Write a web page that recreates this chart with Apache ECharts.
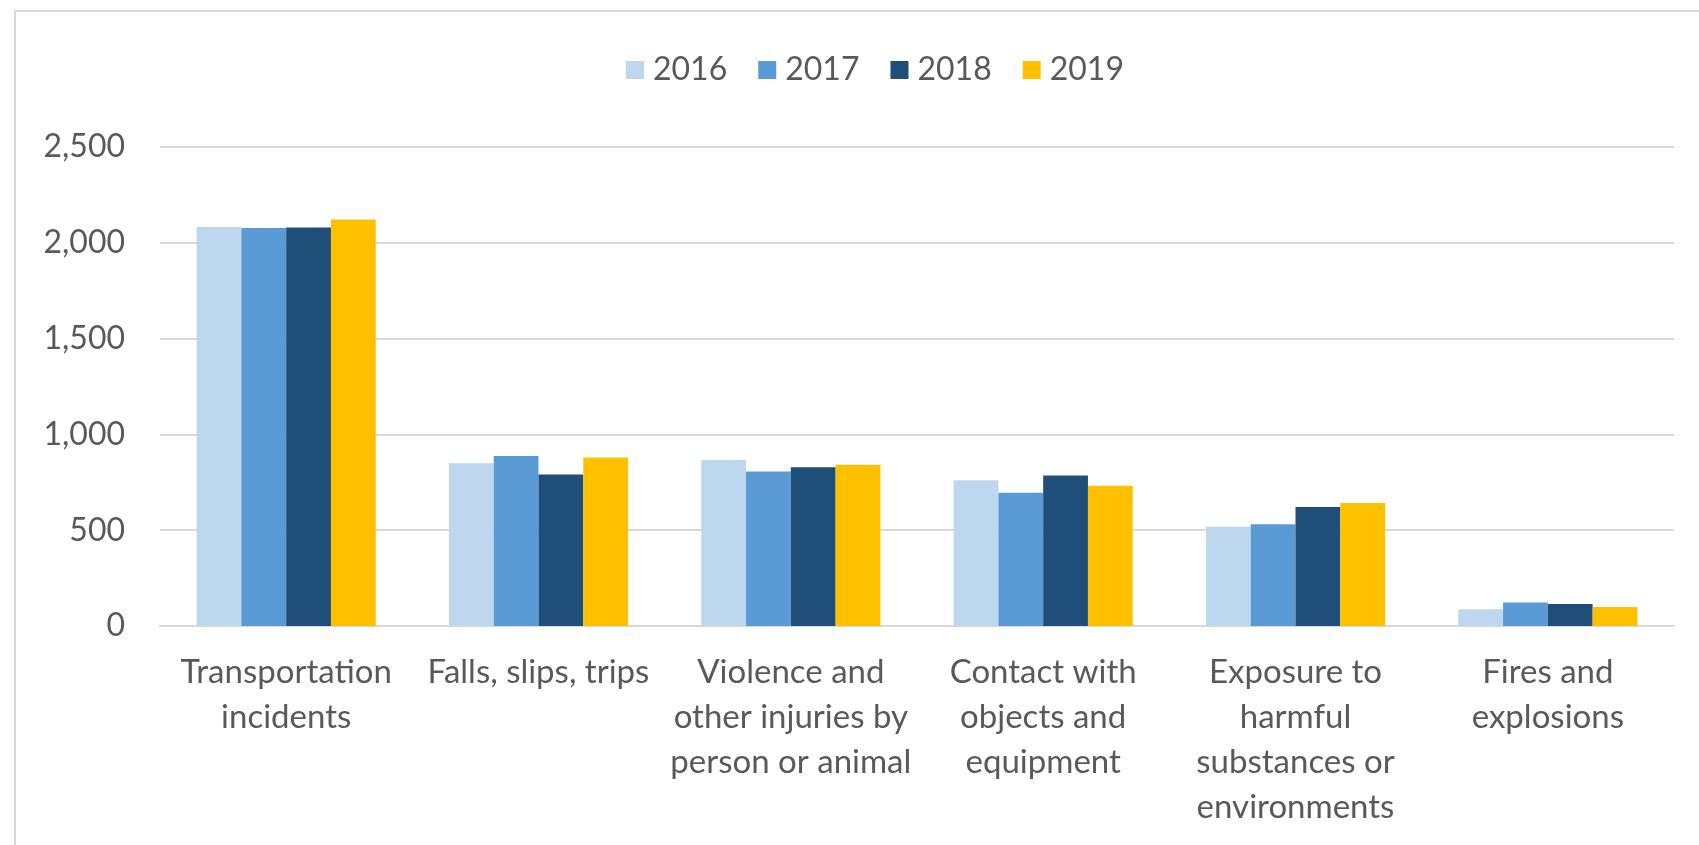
<!DOCTYPE html>
<html>
<head>
<meta charset="utf-8">
<script src="https://cdn.jsdelivr.net/npm/echarts@6/dist/echarts.min.js"></script>
<style>
html,body{margin:0;padding:0;background:#fff;}
#chart{width:1699px;height:845px;}
</style>
</head>
<body>
<div id="chart"></div>
<script>
const categories = [
  'Transportation\nincidents',
  'Falls, slips, trips',
  'Violence and\nother injuries by\nperson or animal',
  'Contact with\nobjects and\nequipment',
  'Exposure to\nharmful\nsubstances or\nenvironments',
  'Fires and\nexplosions'
];
const seriesNames = ['2016', '2017', '2018', '2019'];
const values2016 = [2083, 849, 866, 761, 518, 88];
const values2017 = [2077, 887, 807, 695, 531, 123];
const values2018 = [2080, 791, 828, 786, 621, 115];
const values2019 = [2122, 880, 841, 732, 642, 99];
const colors = ['#BDD7EE', '#5B9BD5', '#1F4E79', '#FFC000'];
const yTicks = { min: 0, max: 2500, interval: 500 };

const FONT = 'Lato';
const chart = echarts.init(document.getElementById('chart'), null, { renderer: 'canvas' });
const allValues = [values2016, values2017, values2018, values2019];

chart.setOption({
  backgroundColor: '#ffffff',
  animation: false,
  color: colors,
  graphic: [{
    type: 'polyline',
    shape: { points: [[15, 900], [15, 11], [1760, 11]] },
    style: { stroke: '#d9d9d9', lineWidth: 2, fill: null }
  }],
  legend: {
    data: seriesNames,
    top: 49,
    left: 621,
    itemWidth: 18,
    itemHeight: 18,
    itemGap: 31,
    icon: 'rect',
    textStyle: { fontFamily: FONT, fontSize: 32, color: '#595959', padding: [0, 0, 0, 4] }
  },
  grid: { left: 160, right: 25, top: 147, bottom: 219, containLabel: false },
  xAxis: {
    type: 'category',
    data: categories,
    axisTick: { show: false },
    axisLine: { lineStyle: { color: '#d9d9d9', width: 2 } },
    axisLabel: {
      interval: 0,
      margin: 24,
      fontFamily: FONT,
      fontSize: 33,
      lineHeight: 45,
      color: '#595959',
      align: 'center'
    }
  },
  yAxis: {
    type: 'value',
    min: yTicks.min,
    max: yTicks.max,
    interval: yTicks.interval,
    axisLine: { show: false },
    axisTick: { show: false },
    splitLine: { lineStyle: { color: '#d9d9d9', width: 2 } },
    axisLabel: {
      margin: 35,
      fontFamily: FONT,
      fontSize: 32,
      color: '#595959',
      formatter: v => v.toLocaleString('en-US')
    }
  },
  series: seriesNames.map((name, i) => ({
    name: name,
    type: 'bar',
    data: allValues[i],
    barGap: '0%',
    barCategoryGap: '29%',
    itemStyle: { color: colors[i] }
  }))
});
</script>
</body>
</html>
